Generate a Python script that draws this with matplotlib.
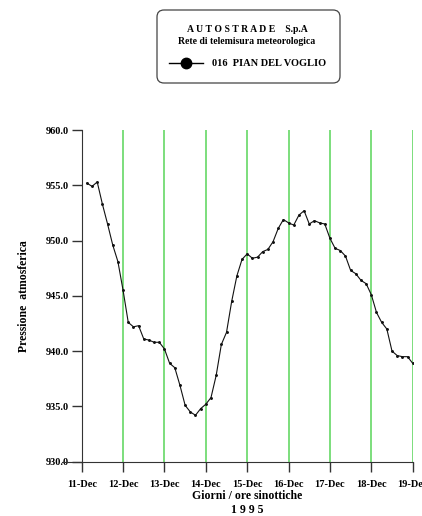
import matplotlib
matplotlib.use("Agg")
import matplotlib.pyplot as plt
import matplotlib.dates as mdates
from matplotlib.patches import FancyBboxPatch
from matplotlib.lines import Line2D
import pandas as pd

# 3-hourly (synoptic) pressure readings, 11-Dec 03:00 .. 19-Dec 00:00 1995
start = "1995-12-11 03:00"
pressure = [
    955.2, 954.9, 955.3, 953.3, 951.5, 949.6, 948.1, 945.5,
    942.6, 942.2, 942.3, 941.1, 941.0, 940.8, 940.8, 940.2,
    938.9, 938.5, 936.9, 935.1, 934.5, 934.2, 934.8, 935.2,
    935.8, 937.8, 940.6, 941.7, 944.5, 946.8, 948.3, 948.8,
    948.4, 948.5, 949.0, 949.2, 949.9, 951.1, 951.9, 951.6,
    951.4, 952.3, 952.7, 951.5, 951.8, 951.6, 951.5, 950.2,
    949.3, 949.1, 948.6, 947.3, 947.0, 946.4, 946.1, 945.1,
    943.5, 942.6, 942.0, 940.0, 939.6, 939.5, 939.5, 938.9,
]
yticks = [930, 935, 940, 945, 950, 955, 960]
company = "A U T O S T R A D E    S.p.A"
network = "Rete di telemisura meteorologica"
station = "016  PIAN DEL VOGLIO"
xlabel = "Giorni / ore sinottiche"
year = "1 9 9 5"
ylabel = "Pressione  atmosferica"

times = pd.date_range(start, periods=len(pressure), freq="3h")
days = pd.date_range("1995-12-11", "1995-12-19", freq="D")

plt.rcParams["font.family"] = ["Liberation Serif", "DejaVu Serif"]
plt.rcParams["font.weight"] = "bold"

W, H = 422, 516
fig = plt.figure(figsize=(W / 100, H / 100), dpi=100)
ax = fig.add_axes([81.7 / W, 1 - 461.7 / H, 331 / W, 331.7 / H])

ax.plot(times, pressure, color="#111111", lw=0.8, marker=".", ms=2.2)
ax.set_xlim(days[0], days[-1])
ax.set_ylim(930, 960)
ax.set_yticks(yticks)
ax.set_yticklabels([f"{v:.1f}" for v in yticks], fontsize=7.5, fontweight="bold")
ax.set_xticks(days)
ax.xaxis.set_major_formatter(mdates.DateFormatter("%d-%b"))
for lab in ax.get_xticklabels():
    lab.set_fontsize(7.5)
    lab.set_fontweight("bold")

ax.grid(axis="x", color="#66d866", lw=1.2)
ax.set_axisbelow(True)
for s in ["top", "right"]:
    ax.spines[s].set_visible(False)
ax.spines["left"].set_color("#333333")
ax.spines["bottom"].set_color("#333333")
ax.spines["bottom"].set_bounds(mdates.date2num(days[0]) - 0.47, mdates.date2num(days[-1]))
ax.tick_params(axis="both", direction="out", length=7.5, color="#333333", width=1.0)
ax.tick_params(axis="x", pad=6)
ax.tick_params(axis="y", pad=2)

ax.set_ylabel(ylabel, fontsize=8.5, fontweight="bold", labelpad=11)
ax.text(0.5, -0.104, xlabel, transform=ax.transAxes, ha="center", va="center",
        fontsize=8.5, fontweight="bold")
ax.text(0.5, -0.146, year, transform=ax.transAxes, ha="center", va="center",
        fontsize=8.5, fontweight="bold")

# legend / title box, drawn in pixel space
lax = fig.add_axes([0, 0, 1, 1])
lax.set_xlim(0, W)
lax.set_ylim(H, 0)
lax.axis("off")
box = FancyBboxPatch((157, 10), 183, 73, boxstyle="round,pad=0,rounding_size=7",
                     fc="white", ec="#444444", lw=0.9)
lax.add_patch(box)
lax.text(247.5, 29, company, ha="center", va="center", fontsize=7, fontweight="bold")
lax.text(247, 42, network, ha="center", va="center", fontsize=7, fontweight="bold")
lax.add_line(Line2D([169, 203], [63, 63], color="black", lw=1.0))
lax.plot([186], [63], marker="o", color="black", ms=7.5)
lax.text(212, 63.5, station, ha="left", va="center", fontsize=7.5, fontweight="bold")

fig.savefig("out.png", dpi=100)
